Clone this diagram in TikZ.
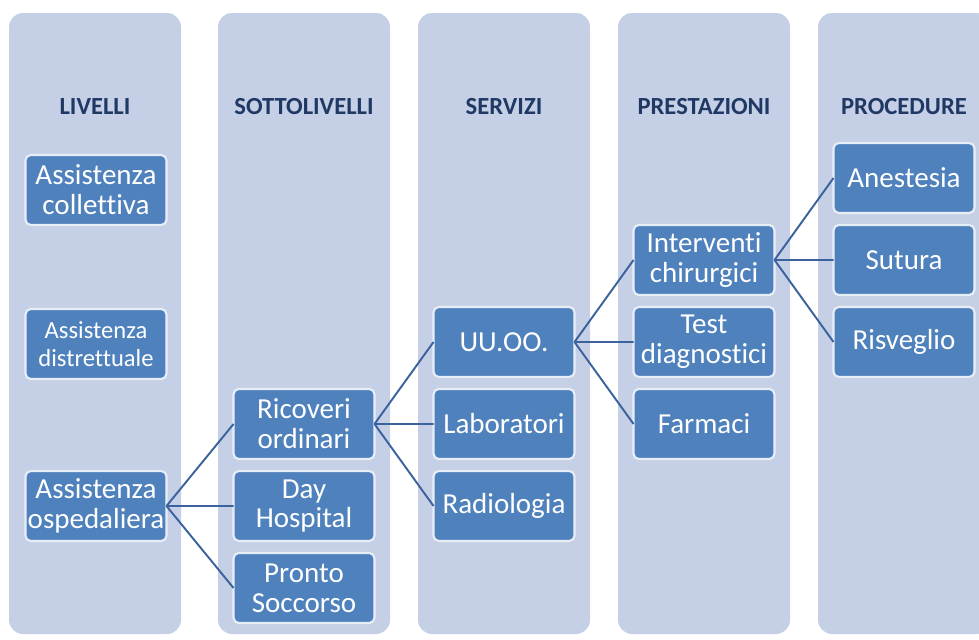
\documentclass[tikz,border=0pt]{standalone}
\usepackage{fontspec}
\setmainfont[Ligatures=NoCommon]{Carlito}
\usepackage{tikz}
\usetikzlibrary{positioning}
\definecolor{colfill}{RGB}{197,208,230}
\definecolor{boxfill}{RGB}{79,129,189}
\definecolor{boxedge}{RGB}{232,238,246}
\definecolor{headtext}{RGB}{31,56,100}
\definecolor{linkcol}{RGB}{60,98,158}

\begin{document}
\begin{tikzpicture}[x=0.02cm,y=-0.02cm]
    \tikzstyle{every node} = [font=\fontsize{16.5}{17}\selectfont]
    \tikzstyle{column} = [fill=colfill, rounded corners=8pt]
    \tikzstyle{header} = [font=\fontsize{14}{15}\selectfont\bfseries, text=headtext]
    \tikzstyle{block} = [draw=boxedge, line width=1.2pt, fill=boxfill, text=white, rounded corners=3pt, minimum width=2.82cm, minimum height=1.4cm, align=center, inner sep=1pt, outer sep=0pt]
    \tikzstyle{link} = [draw=linkcol, line width=1.1pt]
    \useasboundingbox (0,0) rectangle (979,639);
    \clip (0,0) rectangle (979,639);
    % columns
    \fill[column] (9,13) rectangle (181,634);
    \fill[column] (218,13) rectangle (390,634);
    \fill[column] (418,13) rectangle (590,634);
    \fill[column] (618,13) rectangle (790,634);
    \fill[column] (818,13) rectangle (990,634);
    % headers
    \node[header] (hLivelli) at (95,107) {LIVELLI};
    \node[header] (hSottolivelli) at (304,107) {SOTTOLIVELLI};
    \node[header] (hServizi) at (504,107) {SERVIZI};
    \node[header] (hPrestazioni) at (704,107) {PRESTAZIONI};
    \node[header] (hProcedure) at (904,107) {PROCEDURE};
    % place nodes
    \node[block] (collettiva) at (96,190) {Assistenza\\collettiva};
    \node[block,font=\fontsize{14}{16}\selectfont] (distrettuale) at (96,344) {Assistenza\\distrettuale};
    \node[block] (ospedaliera) at (96,506) {Assistenza\\ospedaliera};
    \node[block] (ricoveri) at (304,424) {Ricoveri\\ordinari};
    \node[block,below=0.24cm of ricoveri] (dayHospital) {Day\\Hospital};
    \node[block,below=0.24cm of dayHospital] (prontoSoccorso) {Pronto\\Soccorso};
    \node[block] (uuoo) at (504,342) {UU.OO.};
    \node[block,below=0.24cm of uuoo] (laboratori) {Laboratori};
    \node[block,below=0.24cm of laboratori] (radiologia) {Radiologia};
    \node[block] (interventi) at (704,260) {Interventi\\chirurgici};
    \node[block,below=0.24cm of interventi] (testDiagn) {Test\\diagnostici};
    \node[block,below=0.24cm of testDiagn] (farmaci) {Farmaci};
    \node[block] (anestesia) at (904,178) {Anestesia};
    \node[block,below=0.24cm of anestesia] (sutura) {Sutura};
    \node[block,below=0.24cm of sutura] (risveglio) {Risveglio};
    % Connections
    \draw[link] (ospedaliera.east)--(ricoveri.west)
    (ospedaliera.east)--(dayHospital.west)
    (ospedaliera.east)--(prontoSoccorso.west);
    \draw[link] (ricoveri.east)--(uuoo.west)
    (ricoveri.east)--(laboratori.west)
    (ricoveri.east)--(radiologia.west);
    \draw[link] (uuoo.east)--(interventi.west)
    (uuoo.east)--(testDiagn.west)
    (uuoo.east)--(farmaci.west);
    \draw[link] (interventi.east)--(anestesia.west)
    (interventi.east)--(sutura.west)
    (interventi.east)--(risveglio.west);
  \end{tikzpicture}
\end{document}
